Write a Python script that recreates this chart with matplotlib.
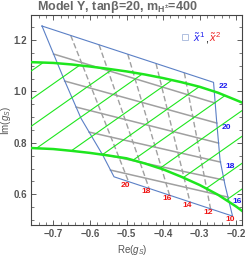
import numpy as np
import matplotlib
matplotlib.use("Agg")
import matplotlib.pyplot as plt
from matplotlib.patches import Polygon
from matplotlib.ticker import MultipleLocator

plt.rcParams['font.family'] = ['Liberation Sans', 'DejaVu Sans']
plt.rcParams['mathtext.fontset'] = 'custom'
plt.rcParams['mathtext.rm'] = 'Liberation Sans'
plt.rcParams['mathtext.it'] = 'Liberation Sans:italic'
plt.rcParams['mathtext.bf'] = 'Liberation Sans:bold'

# thick green boundaries
upper_x = [-0.761, -0.70, -0.65, -0.60, -0.55, -0.50, -0.45, -0.40, -0.35, -0.30, -0.25, -0.20, -0.183]
upper_y = [1.114, 1.111, 1.105, 1.097, 1.088, 1.078, 1.066, 1.052, 1.036, 1.018, 0.995, 0.966, 0.956]
lower_x = [-0.761, -0.70, -0.65, -0.60, -0.55, -0.50, -0.45, -0.40, -0.35, -0.30, -0.25, -0.20, -0.183]
lower_y = [0.780, 0.776, 0.769, 0.761, 0.751, 0.740, 0.720, 0.697, 0.668, 0.636, 0.598, 0.552, 0.534]

# thin green hatch lines, y = x + c
hatch_c = [1.84, 1.73, 1.625, 1.525, 1.42, 1.32, 1.215, 1.11, 1.01, 0.905, 0.805]

# blue region outline
region_x = [-0.7309, -0.2623, -0.2541, -0.2445, -0.2309, -0.2104,
            -0.5342, -0.5650, -0.6243, -0.6699, -0.7309]
region_y = [1.2545, 1.0354, 0.8887, 0.7331, 0.6358, 0.5152,
            0.6681, 0.7525, 0.8953, 1.0444, 1.2545]

# solid gray lines (x1 = const)
x1_levels = [21, 20, 19, 18, 17, 16]
x1_start_x = [-0.6992, -0.6689, -0.6377, -0.6022, -0.5667, -0.5437]
x1_start_y = [1.1455, 1.0405, 0.9393, 0.8420, 0.7564, 0.6942]
x1_end_x = [-0.2579, -0.2533, -0.2486, -0.2434, -0.2336, -0.2230]
x1_end_y = [0.9549, 0.8770, 0.7992, 0.7253, 0.6553, 0.5891]

# dashed gray lines (x2 = const)
x2_levels = [20, 18, 16, 14, 12]
x2_top_x = [-0.6525, -0.5751, -0.4967, -0.4194, -0.3421]
x2_top_y = [1.2179, 1.1817, 1.1451, 1.1086, 1.0724]
x2_bot_x = [-0.4945, -0.4385, -0.3825, -0.3266, -0.2705]
x2_bot_y = [0.6494, 0.6230, 0.5965, 0.5700, 0.5436]

blue_labels = [22, 20, 18, 16]
red_labels = [20, 18, 16, 14, 12, 10]

green = '#1ee61e'
gray = '#a0a0a0'
edge_blue = '#5b80c6'
txt_gray = '#555555'

fig = plt.figure(figsize=(2.45, 2.56), dpi=100)
ax = fig.add_axes([0.128, 0.121, 0.860, 0.820])

# gray grid of the mapping
for i in range(len(x1_levels)):
    ax.plot([x1_start_x[i], x1_end_x[i]], [x1_start_y[i], x1_end_y[i]],
            color=gray, lw=1.1, zorder=2)
for i in range(len(x2_levels)):
    ax.plot([x2_top_x[i], x2_bot_x[i]], [x2_top_y[i], x2_bot_y[i]],
            color=gray, lw=1.0, ls=(0, (4, 2)), zorder=2)

ax.plot(region_x, region_y, color=edge_blue, lw=0.8, zorder=3)

# hatch clipped between the thick curves
band = Polygon(list(zip(upper_x, upper_y)) + list(zip(lower_x[::-1], lower_y[::-1])),
               closed=True, facecolor='none', edgecolor='none')
ax.add_patch(band)
for c in hatch_c:
    ln, = ax.plot([-0.8, -0.1], [-0.8 + c, -0.1 + c], color=green, lw=0.8, zorder=4)
    ln.set_clip_path(band)

ax.plot(upper_x, upper_y, color=green, lw=1.8, zorder=5)
ax.plot(lower_x, lower_y, color=green, lw=1.8, zorder=5)

# contour labels
blue_pts = [(region_x[1], region_y[1])] + [(x1_end_x[k], x1_end_y[k]) for k in (1, 3, 5)]
for lab, (px, py) in zip(blue_labels, blue_pts):
    ax.annotate(str(lab), (px, py), xytext=(3.5, -3), textcoords='offset points',
                color='#1a1aee', fontsize=6, fontweight='bold', ha='left', va='center')
red_pts = list(zip(x2_bot_x, x2_bot_y)) + [(region_x[5], region_y[5])]
for lab, (px, py) in zip(red_labels, red_pts):
    ax.annotate(str(lab), (px, py), xytext=(-2, -2.5), textcoords='offset points',
                color='#ee1111', fontsize=6, fontweight='bold', ha='center', va='center')

# legend
ax.plot([0.729], [0.897], marker='s', ms=5, mfc='none', mec='#b0c0e0', mew=0.7,
        transform=ax.transAxes)
ax.text(0.765, 0.897, r'$\tilde{x}^1$', color='#2222ee', fontsize=8,
        transform=ax.transAxes, va='center')
ax.text(0.822, 0.885, ',', color='black', fontsize=8, transform=ax.transAxes, va='center')
ax.text(0.845, 0.897, r'$\tilde{x}^2$', color='#ee2222', fontsize=8,
        transform=ax.transAxes, va='center')

ax.set_xlim(-0.760, -0.1844)
ax.set_ylim(0.4805, 1.297)
ax.xaxis.set_major_locator(MultipleLocator(0.1))
ax.xaxis.set_minor_locator(MultipleLocator(0.02))
ax.yaxis.set_major_locator(MultipleLocator(0.2))
ax.yaxis.set_minor_locator(MultipleLocator(0.05))
ax.xaxis.set_major_formatter(plt.FuncFormatter(lambda v, p: ('\u2212%.1f' % -v) if v < 0 else '%.1f' % v))
ax.tick_params(which='both', direction='in', top=True, right=True, colors='#444444',
               labelcolor=txt_gray, labelsize=7)
ax.tick_params(which='major', length=3.5, width=0.6, pad=3)
ax.tick_params(which='minor', length=2, width=0.5)
for lbl in ax.get_xticklabels() + ax.get_yticklabels():
    lbl.set_fontweight('bold')
for s in ax.spines.values():
    s.set_color('#444444')
    s.set_linewidth(0.8)

ax.set_xlabel(r'Re($g_S$)', fontsize=7, color=txt_gray)
ax.xaxis.set_label_coords(0.48, -0.088)
ax.set_ylabel(r'Im($g_S$)', fontsize=7, color=txt_gray)
ax.yaxis.set_label_coords(-0.088, 0.5)
fig.text(0.48, 0.972, r'Model Y, tan$\mathbf{\beta}$=20, $\mathbf{m_{H^{\pm}}}$=400',
         fontsize=9, fontweight='bold', color='#666666', ha='center', va='center')

fig.savefig('out.png', dpi=100)
